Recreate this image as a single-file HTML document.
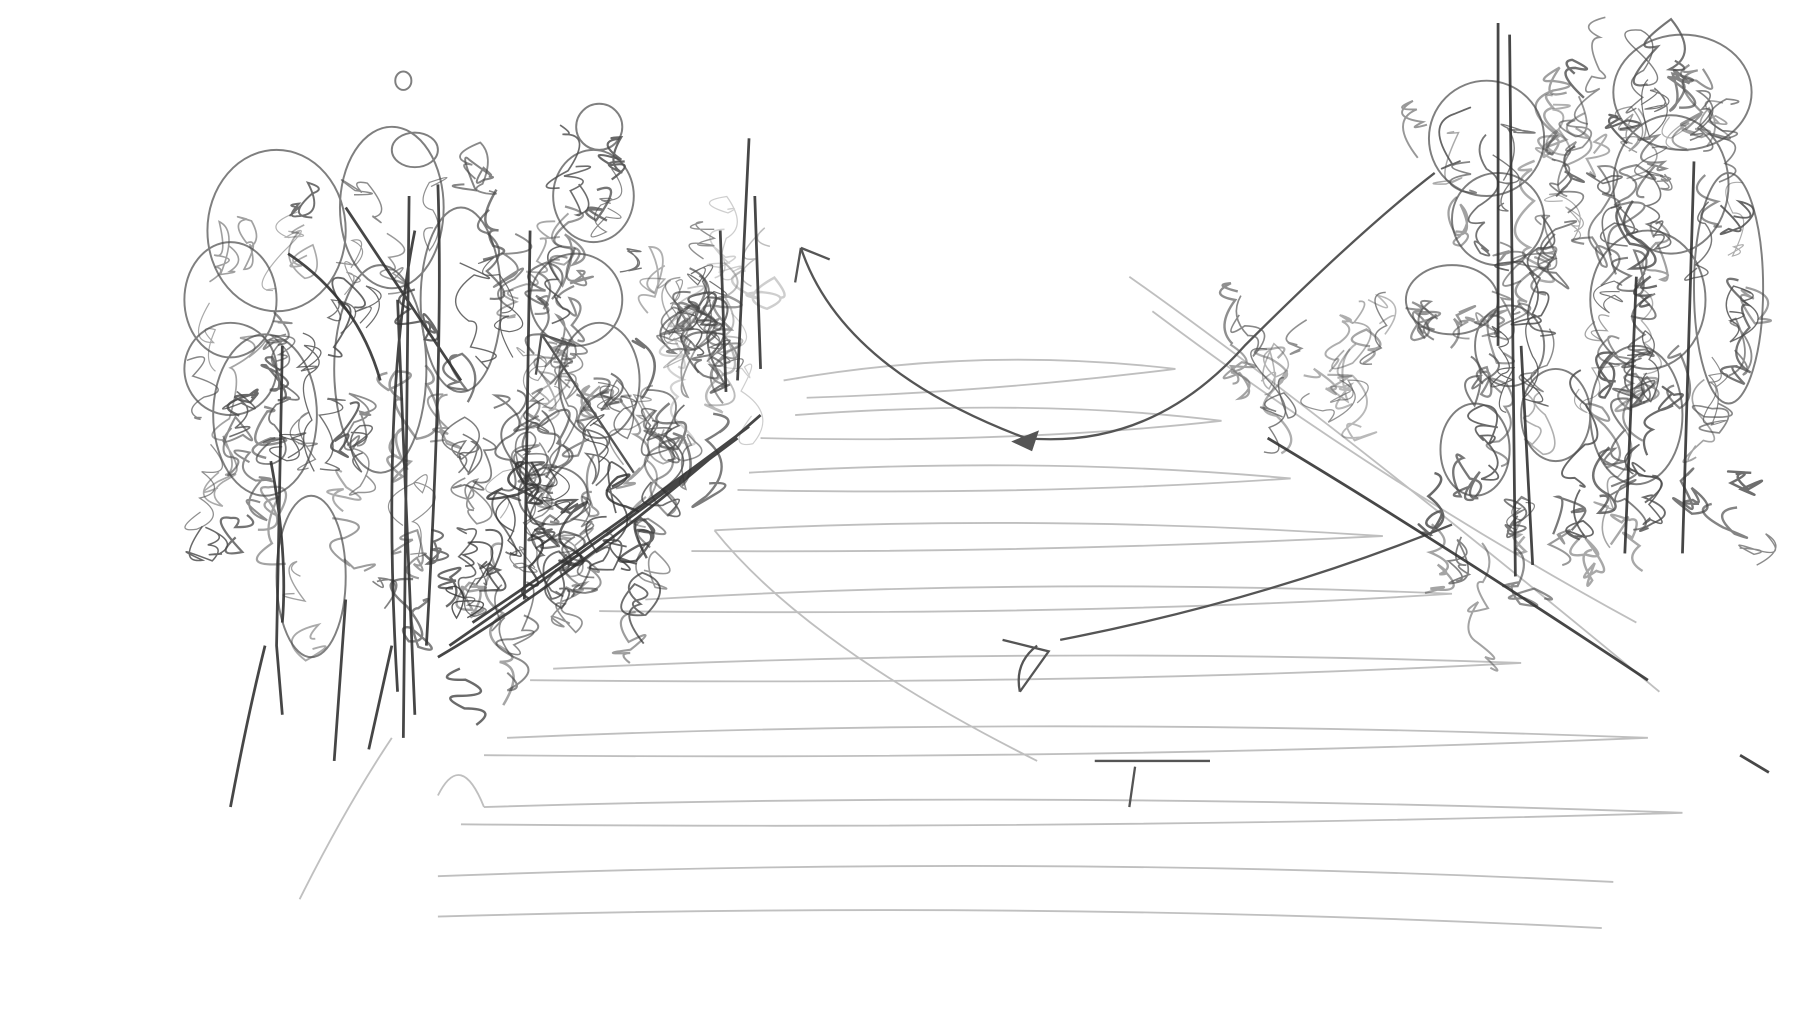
<!DOCTYPE html>
<html><head><meta charset="utf-8"><style>
html,body{margin:0;padding:0;background:#fff;width:1800px;height:1033px;overflow:hidden}
svg{display:block}
</style></head><body>
<svg id="s" width="1800" height="1033" viewBox="0 0 1562 896" preserveAspectRatio="none" xmlns="http://www.w3.org/2000/svg">
<rect width="1562" height="896" fill="#fff"/>
<g stroke="#b5b5b5" stroke-width="1.6" fill="none" opacity="0.85">
<path d="M680 330 Q850 300 1020 320 Q860 340 700 345"/>
<path d="M690 360 Q900 345 1060 365 Q880 385 660 380"/>
<path d="M650 410 Q900 395 1120 415 Q900 430 640 425"/>
<path d="M620 460 Q900 445 1200 465 Q900 480 600 478"/>
<path d="M560 520 Q900 500 1260 515 Q950 535 520 530"/>
<path d="M480 580 Q900 560 1320 575 Q950 595 460 590"/>
<path d="M440 640 Q900 620 1430 640 Q950 660 420 655"/>
<path d="M420 700 Q900 685 1460 705 Q950 720 400 715"/>
<path d="M380 760 Q900 740 1400 765"/>
<path d="M380 795 Q900 780 1390 805"/>
<path d="M980 240 Q1150 360 1440 600"/>
<path d="M1000 270 Q1200 420 1420 540"/>
<path d="M620 460 Q700 560 900 660"/>
<path d="M260 780 Q300 700 340 640 M380 690 Q400 650 420 700"/>
</g>
<g stroke="#555" stroke-width="1.7" fill="none" opacity="0.75">
<ellipse cx="240" cy="200" rx="60" ry="70"/>
<ellipse cx="200" cy="260" rx="40" ry="50"/>
<ellipse cx="230" cy="360" rx="45" ry="70"/>
<ellipse cx="200" cy="320" rx="40" ry="40"/>
<ellipse cx="340" cy="180" rx="45" ry="70"/>
<ellipse cx="360" cy="130" rx="20" ry="15"/>
<ellipse cx="350" cy="70" rx="7" ry="8"/>
<ellipse cx="330" cy="320" rx="40" ry="90"/>
<ellipse cx="400" cy="260" rx="35" ry="80"/>
<ellipse cx="520" cy="110" rx="20" ry="20"/>
<ellipse cx="515" cy="170" rx="35" ry="40"/>
<ellipse cx="500" cy="260" rx="40" ry="40"/>
<ellipse cx="520" cy="330" rx="35" ry="50"/>
<ellipse cx="480" cy="430" rx="30" ry="25"/>
<ellipse cx="270" cy="500" rx="30" ry="70"/>
<ellipse cx="1290" cy="120" rx="50" ry="50"/>
<ellipse cx="1300" cy="190" rx="40" ry="40"/>
<ellipse cx="1260" cy="260" rx="40" ry="30"/>
<ellipse cx="1310" cy="300" rx="30" ry="35"/>
<ellipse cx="1280" cy="390" rx="30" ry="40"/>
<ellipse cx="1460" cy="80" rx="60" ry="50"/>
<ellipse cx="1450" cy="160" rx="50" ry="60"/>
<ellipse cx="1430" cy="260" rx="50" ry="60"/>
<ellipse cx="1420" cy="360" rx="40" ry="60"/>
<ellipse cx="1350" cy="360" rx="30" ry="40"/>
<ellipse cx="1500" cy="250" rx="30" ry="100"/>
</g>
<g id="scrib"></g>
<g stroke="#555" stroke-width="2" fill="none">
<path d="M695 215 Q730 320 890 380 Q1000 390 1080 300 Q1180 200 1245 150"/>
<path d="M695 215 L690 245 M695 215 L720 225"/>
<path d="M880 383 L900 375 L895 390 Z" fill="#555"/>
<path d="M470 290 L550 410 M470 290 L465 325 M470 290 L500 300"/>
<path d="M870 555 L910 565 L885 600 M900 560 Q880 575 885 600"/>
<path d="M950 660 L1050 660 M985 665 L980 700"/>
<path d="M920 555 Q1100 520 1260 455"/>
</g>
<g stroke="#333" stroke-width="2.4" fill="none" opacity="0.9">
<path d="M245 300 L240 560 L245 620 M235 400 Q250 480 245 540"/>
<path d="M355 170 L350 640 M345 260 L360 620 M360 200 Q330 350 345 600"/>
<path d="M380 160 Q385 300 370 560 M300 180 L400 330 M250 220 Q310 260 330 330"/>
<path d="M460 200 L455 520 M200 700 Q215 620 230 560 M290 660 L300 520 M320 650 L340 560"/>
<path d="M380 570 Q500 500 660 360 M390 560 Q520 470 640 380 M410 540 Q530 460 650 370"/>
<path d="M640 330 L650 120 M630 340 L625 200 M660 320 L655 170"/>
<path d="M1300 20 L1300 300 M1310 30 L1315 500 M1320 300 L1330 490 M1470 140 L1460 480 M1420 240 L1410 480"/>
<path d="M1100 380 Q1250 470 1430 590 M1510 655 L1535 670"/>
</g>
</svg>
<script>
(function(){
var seed=11;function r(){seed=(seed*16807)%2147483647;return (seed-1)/2147483646;}
var g=document.getElementById('scrib'),ns='http://www.w3.org/2000/svg';
function region(x0,x1,yt,yb,n,col,op){
 for(var i=0;i<n;i++){
  var cx=x0+r()*(x1-x0),cy=yt(cx)+r()*(yb(cx)-yt(cx));
  var d='M'+cx.toFixed(1)+' '+cy.toFixed(1),x=cx,y=cy;
  var steps=3+Math.floor(r()*4);
  for(var k=0;k<steps;k++){
   var rx=6+r()*12,ry=25+r()*40;
   var nx=x+(r()-0.5)*rx*1.5,ny=y+(r()-0.5)*ry*1.6;
   var c1x=x+(r()<0.5?-1:1)*rx*1.8,c1y=(y+ny)/2+(r()-0.5)*ry*0.8;
   d+=' Q'+c1x.toFixed(1)+' '+c1y.toFixed(1)+' '+nx.toFixed(1)+' '+ny.toFixed(1);
   x=nx;y=ny;
  }
  var p=document.createElementNS(ns,'path');
  p.setAttribute('d',d);p.setAttribute('fill','none');
  p.setAttribute('stroke',col);p.setAttribute('stroke-width',(1+r()*1.2).toFixed(2));
  p.setAttribute('opacity',(op*(0.5+r()*0.5)).toFixed(2));
  g.appendChild(p);
 }
}
region(175,630,function(x){return x<300?170:(x<420?130:(x<560?140:220));},function(x){return x<300?600:(x<420?580:(x<560?480:400));},140,'#4a4a4a',0.85);
region(1230,1520,function(x){return x<1300?90:60;},function(x){return 480;},120,'#4a4a4a',0.85);
region(1040,1210,function(x){return 270;},function(x){return 340;},18,'#555',0.8);
region(570,660,function(x){return 200;},function(x){return 360;},10,'#888',0.6);
region(400,600,function(x){return 420;},function(x){return 540;},35,'#333',0.85);
})();
</script>
</body></html>
